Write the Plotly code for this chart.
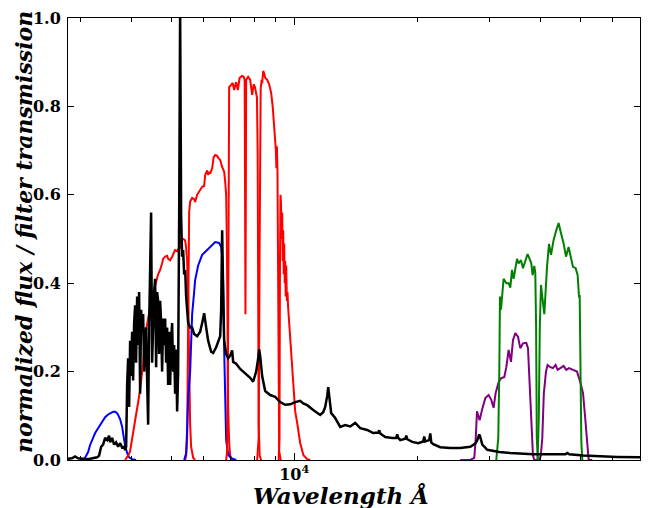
import plotly.graph_objects as go

# ---------------- data (wavelength in Angstrom) ----------------
spec_wave = [2801, 2865, 2914, 2963, 3032, 3101, 3171, 3243, 3298, 3336, 3374, 3412, 3451, 3490, 3529, 3549,
             3589, 3630, 3671, 3713, 3755, 3798, 3841, 3862, 3884, 3906, 3928, 3950, 3972, 3994, 4017, 4040,
             4062, 4086, 4108, 4132, 4155, 4178, 4202, 4226, 4250, 4274, 4298, 4322, 4346, 4371, 4396, 4420,
             4445, 4470, 4495, 4521, 4546, 4572, 4598, 4624, 4650, 4676, 4703, 4729, 4756, 4783, 4810, 4837,
             4864, 4892, 4920, 4947, 4975, 5003, 5031, 5060, 5088, 5117, 5146, 5175, 5204, 5234, 5263, 5293,
             5323, 5353, 5383, 5414, 5444, 5506, 5568, 5631, 5695, 5792, 5891, 5958, 6025, 6093, 6162, 6267,
             6338, 6446, 6519, 6593, 6630, 6667, 6705, 6743, 6819, 6896, 6974, 7053, 7093, 7213, 7378, 7588,
             7806, 7938, 8073, 8165, 8211, 8258, 8351, 8493, 8638, 8736, 8985, 9242, 9505, 9777, 10056, 10344,
             10520, 10760, 11130, 11576, 11773, 11906, 12041, 12110, 12178, 12316, 12595, 12956, 13325, 13706,
             14096, 14500, 15074, 15600, 16046, 16137, 16228, 16692, 17363, 17757, 17858, 17958, 18162, 18685,
             18790, 18896, 19433, 20098, 20672, 20789, 20906, 21383, 21504, 21626, 21870, 22749, 24066, 25460,
             26934, 27704, 28019, 28334, 28494, 28817, 29645, 31712, 33737, 38400, 42257, 45980, 46499, 47027,
             50884, 55994, 61617, 70135]
spec_flux = [0.003, 0.004, 0.008, 0.004, 0.003, 0.002, 0.003, 0.004, 0.006, 0.01, 0.03, 0.035, 0.05, 0.045, 0.055, 0.04,
             0.05, 0.035, 0.04, 0.03, 0.038, 0.028, 0.03, 0.022, 0.03, 0.17, 0.23, 0.12, 0.27, 0.19, 0.29, 0.18,
             0.31, 0.35, 0.22, 0.37, 0.26, 0.38, 0.15, 0.34, 0.29, 0.33, 0.2, 0.27, 0.3, 0.18, 0.08, 0.3,
             0.4, 0.56, 0.22, 0.33, 0.38, 0.41, 0.21, 0.38, 0.36, 0.24, 0.36, 0.31, 0.2, 0.32, 0.26, 0.32,
             0.22, 0.3, 0.17, 0.29, 0.17, 0.27, 0.31, 0.2, 0.26, 0.15, 0.25, 0.11, 0.2, 0.55, 1.02, 0.55,
             0.46, 0.475, 0.42, 0.43, 0.37, 0.31, 0.3, 0.3, 0.285, 0.28, 0.29, 0.31, 0.332, 0.3, 0.27, 0.245,
             0.242, 0.255, 0.268, 0.28, 0.34, 0.52, 0.38, 0.27, 0.24, 0.23, 0.236, 0.248, 0.222, 0.218, 0.206, 0.197,
             0.186, 0.177, 0.2, 0.23, 0.25, 0.235, 0.19, 0.156, 0.15, 0.147, 0.143, 0.131, 0.125, 0.126, 0.131, 0.134,
             0.128, 0.124, 0.113, 0.102, 0.108, 0.12, 0.145, 0.165, 0.145, 0.106, 0.095, 0.075, 0.079, 0.076,
             0.084, 0.072, 0.068, 0.061, 0.062, 0.067, 0.06, 0.052, 0.05, 0.05, 0.058, 0.05, 0.045, 0.048,
             0.055, 0.047, 0.041, 0.038, 0.042, 0.053, 0.042, 0.045, 0.06, 0.04, 0.036, 0.029, 0.027, 0.027,
             0.03, 0.037, 0.045, 0.058, 0.052, 0.035, 0.023, 0.018, 0.016, 0.013, 0.013, 0.013, 0.016, 0.013,
             0.01, 0.008, 0.007, 0.006]

u_wave = [2998, 3083, 3136, 3171, 3225, 3262, 3317, 3355, 3412, 3451, 3510, 3549, 3609, 3651, 3692, 3713,
          3755, 3798, 3841, 3862, 3906, 3950, 4017, 4108]
u_trans = [0.0, 0.005, 0.018, 0.034, 0.05, 0.061, 0.072, 0.079, 0.09, 0.097, 0.103, 0.106, 0.109, 0.109, 0.106, 0.102,
           0.092, 0.075, 0.045, 0.032, 0.016, 0.006, 0.002, 0.0]

g_wave = [3862, 3906, 3928, 3972, 4017, 4086, 4155, 4202, 4274, 4322, 4396, 4445, 4521, 4572, 4650, 4703,
          4756, 4783, 4837, 4892, 4920, 4975, 5031, 5088, 5117, 5175, 5204, 5263, 5293, 5353, 5414, 5444,
          5475, 5506, 5537, 5568, 5599, 5663, 5727]
g_trans = [0.0, 0.005, 0.01, 0.02, 0.045, 0.09, 0.13, 0.16, 0.22, 0.28, 0.32, 0.345, 0.37, 0.395, 0.42, 0.43,
           0.445, 0.455, 0.46, 0.462, 0.455, 0.452, 0.46, 0.468, 0.475, 0.472, 0.477, 0.48, 0.5, 0.5, 0.497, 0.48,
           0.45, 0.37, 0.2, 0.08, 0.03, 0.005, 0.0]

r_wave = [5414, 5444, 5475, 5506, 5537, 5568, 5631, 5695, 5727, 5792, 5825, 5891, 5958, 6025, 6059, 6127,
          6162, 6215, 6232, 6302, 6356, 6410, 6483, 6519, 6593, 6667, 6743, 6781, 6819, 6846, 6877, 6896,
          6935, 6974, 7053]
r_trans = [0.0, 0.01, 0.05, 0.3, 0.56, 0.585, 0.593, 0.59, 0.584, 0.6, 0.604, 0.612, 0.618, 0.62, 0.645, 0.655,
           0.645, 0.652, 0.648, 0.66, 0.685, 0.69, 0.688, 0.684, 0.679, 0.663, 0.652, 0.63, 0.6, 0.5, 0.25, 0.12,
           0.04, 0.01, 0.0]

b2_wave = [5383, 5444, 5475, 5506, 5568, 5599, 5631, 5695, 5727, 5825, 5958, 6127, 6302, 6410, 6556, 6630,
           6667, 6705, 6743, 6781, 6819, 6896, 7014, 7213]
b2_trans = [0.0, 0.015, 0.07, 0.14, 0.2, 0.27, 0.33, 0.38, 0.407, 0.44, 0.464, 0.475, 0.486, 0.493, 0.491, 0.482,
            0.46, 0.4, 0.25, 0.12, 0.045, 0.012, 0.004, 0.0]

i_wave = [6819, 6857, 6896, 6915, 6935, 7005, 7073, 7133, 7213, 7283, 7353, 7454, 7526, 7568, 7588, 7601,
          7618, 7631, 7717, 7806, 7894, 7961, 8018, 8109, 8141, 8165, 8188, 8234, 8304]
i_trans = [0.0, 0.02, 0.3, 0.7, 0.844, 0.848, 0.853, 0.837, 0.855, 0.837, 0.864, 0.869, 0.867, 0.86, 0.5, 0.33,
           0.6, 0.86, 0.867, 0.86, 0.826, 0.85, 0.844, 0.82, 0.7, 0.35, 0.08, 0.01, 0.0]

z_wave = [8119, 8188, 8234, 8281, 8328, 8351, 8398, 8446, 8493, 8590, 8687, 8785, 8860, 8935, 8985, 9021,
          9046, 9072, 9103, 9129, 9155, 9190, 9268]
z_trans = [0.0, 0.05, 0.5, 0.84, 0.86, 0.852, 0.88, 0.875, 0.865, 0.86, 0.85, 0.83, 0.8, 0.76, 0.73, 0.7,
           0.66, 0.71, 0.65, 0.4, 0.1, 0.02, 0.0]

y_wave = [9164, 9205, 9231, 9258, 9284, 9321, 9347, 9373, 9400, 9427, 9453, 9480, 9505, 9532, 9559, 9597,
          9630, 9663, 9720, 9777, 9874, 9966, 10056, 10170, 10344, 10535, 10760, 10943]
y_trans = [0.0, 0.05, 0.45, 0.6, 0.58, 0.5, 0.56, 0.45, 0.52, 0.42, 0.49, 0.4, 0.45, 0.37, 0.44, 0.36,
           0.38, 0.346, 0.31, 0.278, 0.21, 0.15, 0.11, 0.084, 0.038, 0.011, 0.002, 0.0]

ch1_wave = [31180, 31533, 31711, 31835, 32014, 32490, 32986, 33420, 33737, 34062, 34374, 34700, 35035, 35357,
            35830, 36234, 36709, 37186, 37607, 37970, 38250, 38617, 38835, 39010, 39165, 39386]
ch1_trans = [0.0, 0.05, 0.2, 0.37, 0.34, 0.41, 0.4, 0.4, 0.39, 0.43, 0.41, 0.43, 0.455, 0.445,
             0.452, 0.434, 0.448, 0.466, 0.455, 0.445, 0.418, 0.439, 0.423, 0.3, 0.05, 0.0]

ch2_wave = [39340, 39610, 39830, 40102, 40396, 40855, 41480, 41950, 42424, 43050, 43710, 44280, 44880, 45540,
            46160, 46840, 47480, 48010, 48730, 49290, 49680, 49850, 50090, 50320, 50600]
ch2_trans = [0.0, 0.1, 0.3, 0.396, 0.369, 0.33, 0.437, 0.489, 0.464, 0.498, 0.52, 0.536, 0.513, 0.49,
             0.46, 0.482, 0.457, 0.437, 0.434, 0.418, 0.367, 0.373, 0.2, 0.04, 0.0]

w1_wave = [25460, 26934, 27548, 27780, 27970, 28382, 28770, 29312, 29860, 30314, 30710, 31060, 31590, 32016,
           32620, 32990, 33420, 33870, 34250, 34700, 35230, 35690, 36240, 36920, 37270, 37610, 37970, 38330,
           38617, 39720]
w1_trans = [0.0, 0.0, 0.005, 0.05, 0.11, 0.09, 0.113, 0.14, 0.147, 0.136, 0.118, 0.151, 0.176, 0.185,
            0.188, 0.21, 0.249, 0.222, 0.271, 0.287, 0.279, 0.253, 0.264, 0.265, 0.253, 0.166, 0.06, 0.01,
            0.0, 0.0]

w2_wave = [39720, 40060, 40396, 40740, 41240, 41610, 42257, 42900, 43530, 44030, 44704, 45542, 46230, 46950,
           48017, 49110, 50031, 50800, 51480, 51970, 52440, 53520]
w2_trans = [0.0, 0.01, 0.05, 0.15, 0.2, 0.215, 0.21, 0.208, 0.215, 0.204, 0.208, 0.213, 0.204, 0.208,
            0.204, 0.2, 0.176, 0.151, 0.09, 0.04, 0.0, 0.0]

x_major = [10000]
x_major_text = ["10<sup>4</sup>"]
x_minor = [3000, 4000, 5000, 6000, 7000, 8000, 9000, 20000, 30000, 40000, 50000, 60000, 70000]
y_ticks = [0.0, 0.2, 0.4, 0.6, 0.8, 1.0]

# ---------------- figure ----------------
fig = go.Figure()

filters = [
    (u_wave, u_trans, "blue"),
    (g_wave, g_trans, "red"),
    (r_wave, r_trans, "red"),
    (b2_wave, b2_trans, "blue"),
    (i_wave, i_trans, "red"),
    (z_wave, z_trans, "red"),
    (y_wave, y_trans, "red"),
    (w1_wave, w1_trans, "purple"),
    (w2_wave, w2_trans, "purple"),
    (ch1_wave, ch1_trans, "green"),
    (ch2_wave, ch2_trans, "green"),
]
for wv, tr, col in filters:
    fig.add_trace(go.Scatter(x=wv, y=tr, mode="lines", line=dict(color=col, width=2.0),
                             showlegend=False, hoverinfo="skip"))

fig.add_trace(go.Scatter(x=spec_wave, y=spec_flux, mode="lines", line=dict(color="black", width=2.5),
                         showlegend=False, hoverinfo="skip"))

tickfont = dict(family="DejaVu Serif", size=16, color="black", weight="bold")

fig.update_layout(
    width=651, height=508,
    margin=dict(l=68, r=11, t=18, b=48, autoexpand=False),
    paper_bgcolor="white", plot_bgcolor="white",
    xaxis=dict(type="log", range=[3.4472, 4.8451], automargin=False,
               tickmode="array", tickvals=x_major, ticktext=x_major_text,
               ticks="inside", ticklen=7, tickcolor="black", tickwidth=1,
               showline=True, linecolor="black", linewidth=1, mirror="allticks",
               showgrid=False, zeroline=False, tickfont=tickfont,
               minor=dict(tickmode="array", tickvals=x_minor, ticks="inside", ticklen=4,
                          tickcolor="black", tickwidth=1, showgrid=False)),
    yaxis=dict(range=[0, 1.0], tickmode="array", tickvals=y_ticks, automargin=False,
               ticktext=["%.1f" % v for v in y_ticks], ticklabelstandoff=3,
               ticks="inside", ticklen=6, tickcolor="black", tickwidth=1,
               showline=True, linecolor="black", linewidth=1, mirror="allticks",
               showgrid=False, zeroline=False, tickfont=tickfont),
    annotations=[
        dict(text="<b><i>normalized flux / filter transmission</i></b>", xref="paper", yref="paper",
             x=-0.077, y=0.516, xanchor="center", yanchor="middle", textangle=-90, showarrow=False,
             font=dict(family="DejaVu Serif", size=22, color="black")),
        dict(text="<b><i>Wavelength Å</i></b>", xref="paper", yref="paper",
             x=0.477, y=-0.081, xanchor="center", yanchor="middle", showarrow=False,
             font=dict(family="DejaVu Serif", size=23, color="black")),
    ],
)

fig.write_html("out.html", config={"displayModeBar": False},
               post_script="document.body.style.margin='0px';")
